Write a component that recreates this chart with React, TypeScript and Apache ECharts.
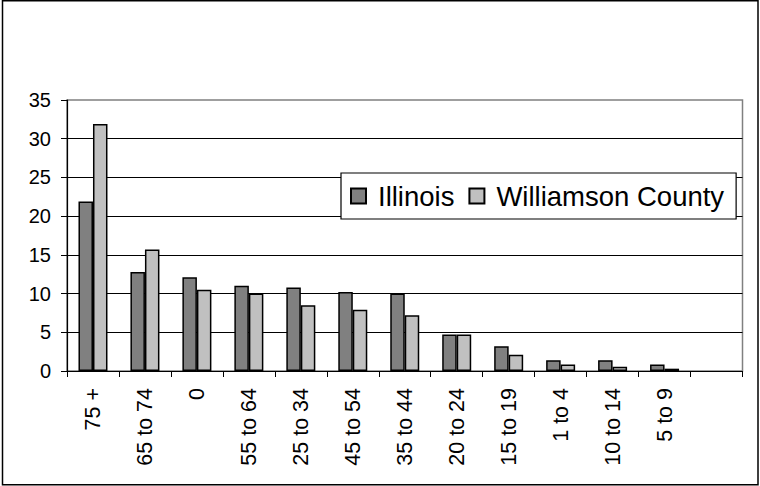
import React, { useEffect, useRef } from "react";
import * as echarts from "echarts";

const categories = ["75 +", "65 to 74", "0", "55 to 64", "25 to 34", "45 to 54", "35 to 44", "20 to 24", "15 to 19", "1 to 4", "10 to 14", "5 to 9", ""];
const illinois = [21.9, 12.8, 12.1, 11.0, 10.8, 10.2, 10.0, 4.7, 3.2, 1.4, 1.4, 0.85, null];
const williamson = [31.9, 15.7, 10.5, 10.0, 8.5, 7.9, 7.2, 4.7, 2.1, 0.85, 0.55, 0.3, null];
const seriesNames = ["Illinois", "Williamson County"];
const yTicks = { min: 0, max: 35, interval: 5 };

export default function App() {
  const ref = useRef<HTMLDivElement>(null);
  useEffect(() => {
    if (!ref.current) return;
    const chart = echarts.init(ref.current, null, { renderer: "svg" });
    const font = "'Liberation Sans', Arial, sans-serif";
    chart.setOption({
      animation: false,
      backgroundColor: "#ffffff",
      textStyle: { fontFamily: font },
      graphic: [
        {
          type: "rect",
          shape: { x: 2.5, y: 0.75, width: 755.5, height: 484 },
          style: { fill: "none", stroke: "#000", lineWidth: 1.5 },
          silent: true,
        },
      ],
      grid: {
        left: 67,
        top: 100,
        right: 17.5,
        bottom: 115,
        show: true,
        borderColor: "#808080",
        borderWidth: 1.5,
        backgroundColor: "transparent",
      },
      legend: {
        left: 341,
        top: 173,
        orient: "horizontal",
        backgroundColor: "#ffffff",
        borderColor: "#000",
        borderWidth: 1.2,
        padding: [9, 12, 9, 9],
        itemWidth: 15,
        itemHeight: 15,
        itemGap: 14,
        icon: "rect",
        textStyle: { fontSize: 27.5, color: "#000", fontFamily: font, padding: [0, 0, 0, 7] },
        data: seriesNames,
      },
      xAxis: {
        type: "category",
        data: categories,
        boundaryGap: true,
        axisLine: { lineStyle: { color: "#000", width: 1.2 } },
        axisTick: { show: true, alignWithLabel: false, interval: 0, length: 6, lineStyle: { color: "#000", width: 1 } },
        axisLabel: { rotate: 90, interval: 0, margin: 17, fontSize: 21.5, color: "#000", fontFamily: font },
        splitLine: { show: false },
      },
      yAxis: {
        type: "value",
        min: yTicks.min,
        max: yTicks.max,
        interval: yTicks.interval,
        axisLine: { show: true, lineStyle: { color: "#000", width: 1.2 } },
        axisTick: { show: true, length: 6, lineStyle: { color: "#000", width: 1 } },
        axisLabel: { margin: 16, fontSize: 20, color: "#000", fontFamily: font },
        splitLine: { show: true, showMaxLine: false, lineStyle: { color: "#000", width: 1 } },
      },
      series: [
        {
          name: seriesNames[0],
          type: "bar",
          data: illinois,
          barWidth: 14.5,
          barGap: "0%",
          itemStyle: { color: "#808080", borderColor: "#000", borderWidth: 1.5 },
        },
        {
          name: seriesNames[1],
          type: "bar",
          data: williamson,
          barWidth: 14.5,
          barGap: "0%",
          itemStyle: { color: "#c0c0c0", borderColor: "#000", borderWidth: 1.5 },
        },
      ],
    });
    return () => chart.dispose();
  }, []);
  return (
    <div
      ref={ref}
      style={{ position: "absolute", left: 0, top: 0, width: 760, height: 486 }}
    />
  );
}
